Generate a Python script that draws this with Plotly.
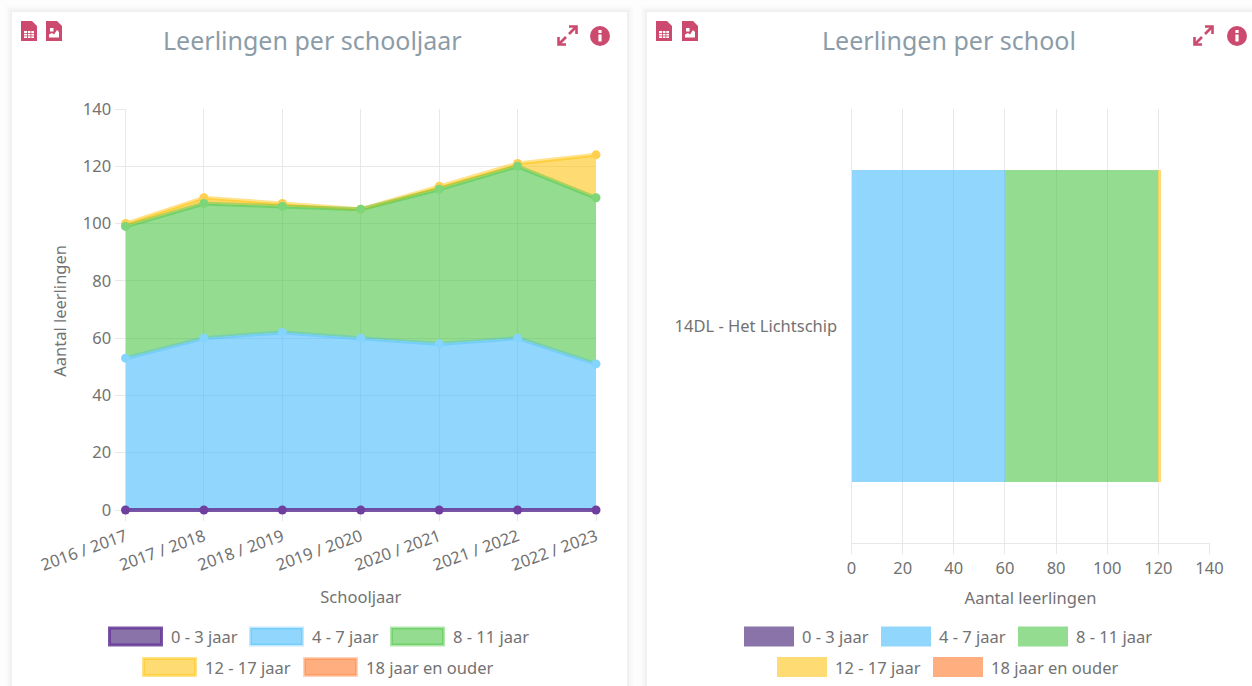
import plotly.graph_objects as go

W, H = 1252, 686
school_years = ["2016 / 2017", "2017 / 2018", "2018 / 2019", "2019 / 2020", "2020 / 2021", "2021 / 2022", "2022 / 2023"]
age_groups = ["0 - 3 jaar", "4 - 7 jaar", "8 - 11 jaar", "12 - 17 jaar", "18 jaar en ouder"]
age_0_3 = [0, 0, 0, 0, 0, 0, 0]
age_4_7 = [53, 60, 62, 60, 58, 60, 51]
age_8_11 = [46, 47, 44, 45, 54, 60, 58]
age_12_17 = [1, 2, 1, 0, 1, 1, 15]
school_names = ["14DL - Het Lichtschip"]
school_values = [0, 60, 60, 1, 0]

FONT = "Noto Sans"
TXT = "#727272"
GRID = "#e8e8e8"
PINK = "#cc4a6e"
SIZE = 16.5
fills = ["rgba(42,0,97,0.55)", "rgba(54,183,252,0.55)", "rgba(60,193,53,0.55)", "rgba(255,191,0,0.55)", "rgba(255,108,24,0.55)"]
lines = ["rgba(100,55,150,0.85)", "rgba(54,183,252,0.3)", "rgba(60,193,53,0.4)", "rgba(255,191,0,0.45)", "rgba(255,108,24,0.3)"]
marks = ["#6f3f9f", "#85d4fd", "#7dd67a", "#ffcf50", "#ffa070"]


def px(x):
    return x / W


def py(y):
    return 1 - y / H


def P(points, close=True):
    s = "M" + " L".join(f"{px(x):.5f},{py(y):.5f}" for x, y in points)
    return s + (" Z" if close else "")


shapes = []
annotations = []


def rect(x0, y0, x1, y1, fill, line=None, lw=0, layer="above"):
    shapes.append(dict(type="rect", xref="paper", yref="paper", x0=px(x0), x1=px(x1), y0=py(y0), y1=py(y1),
                       fillcolor=fill, line=dict(color=line or "rgba(0,0,0,0)", width=lw), layer=layer))


def text(x, y, s, size=SIZE, color=TXT, anchor="left"):
    annotations.append(dict(x=px(x), y=py(y), xref="paper", yref="paper", text=s, showarrow=False, xanchor=anchor,
                            yanchor="middle", font=dict(family=FONT, size=size, color=color)))


def card(x0, x1):
    for k, a in ((6, 0.012), (4, 0.016), (2, 0.02)):
        rect(x0 - k, 12 - k, x1 + k, H + 20, f"rgba(0,0,0,{a})", layer="below")
    rect(x0, 12, x1, H + 20, "white", layer="below")


def doc_icon(x, y, w=16, h=20):
    shapes.append(dict(type="path", xref="paper", yref="paper", layer="above", fillcolor=PINK, line=dict(width=0),
                       path=P([(x, y), (x + w - 5, y), (x + w, y + 5), (x + w, y + h), (x, y + h)])))


def calc_icon(x, y):
    doc_icon(x, y)
    rect(x + 3, y + 10, x + 13, y + 17, "white")
    for dx in (6, 9.5):
        rect(x + dx, y + 10, x + dx + 0.8, y + 17, PINK)
    for dy in (12, 14.5):
        rect(x + 3, y + dy, x + 13, y + dy + 0.8, PINK)


def img_icon(x, y):
    doc_icon(x, y)
    rect(x + 4, y + 7, x + 7.5, y + 10.5, "white")
    shapes.append(dict(type="path", xref="paper", yref="paper", layer="above", fillcolor="white", line=dict(width=0),
                       path=P([(x + 3, y + 16.5), (x + 3, y + 13.5), (x + 6, y + 12), (x + 8, y + 13.5), (x + 11, y + 9), (x + 13, y + 11), (x + 13, y + 16.5)])))


def expand_icon(x, y, s=21):
    stroke = dict(color=PINK, width=2.6)
    for pts in ([(x + 2, y + s - 2), (x + 9, y + s - 9)], [(x + s - 2, y + 2), (x + s - 9, y + 9)],
                [(x + s - 9, y + 1.5), (x + s - 1.5, y + 1.5), (x + s - 1.5, y + 9)],
                [(x + 1.5, y + s - 9), (x + 1.5, y + s - 1.5), (x + 9, y + s - 1.5)]):
        shapes.append(dict(type="path", xref="paper", yref="paper", layer="above", line=stroke, path=P(pts, False)))


def info_icon(cx, cy, r=10):
    shapes.append(dict(type="circle", xref="paper", yref="paper", x0=px(cx - r), x1=px(cx + r), y0=py(cy + r), y1=py(cy - r),
                       fillcolor=PINK, line=dict(width=0), layer="above"))
    rect(cx - 1.6, cy - 1.5, cx + 1.6, cy + 5.5, "white")
    rect(cx - 1.6, cy - 6, cx + 1.6, cy - 3, "white")


def legend(items, swatch_w, border):
    for i, x0, y in items:
        x1 = x0 + swatch_w
        d = 1.5 if border else 0
        rect(x0 + d, y - 10 + d, x1 - d, y + 10 - d, fills[i], lines[i] if border else None, 3 if border else 0)
        text(x1 + 6, y, age_groups[i])


card(12, 627)
card(647, W + 20)
calc_icon(21, 21)
img_icon(46, 21)
expand_icon(557, 25)
info_icon(600, 36)
calc_icon(656, 21)
img_icon(682, 21)
expand_icon(1193, 25)
info_icon(1237, 36)
text(312.5, 40, "Leerlingen per schooljaar", 25, "#8b9ca8", "center")
text(948.5, 40, "Leerlingen per school", 25, "#8b9ca8", "center")
legend([(0, 108, 636.5), (1, 249, 636.5), (2, 390, 636.5), (3, 142, 667), (4, 303, 667)], 55, True)
legend([(0, 744, 636.5), (1, 881, 636.5), (2, 1018, 636.5), (3, 777, 667), (4, 933, 667)], 50, False)

fig = go.Figure()
series = [age_0_3, age_4_7, age_8_11, age_12_17]
for i, vals in enumerate(series):
    fig.add_trace(go.Scatter(x=school_years, y=vals, name=age_groups[i], stackgroup="a", mode="none",
                             fillcolor=fills[i], showlegend=False, xaxis="x", yaxis="y"))
# outlines and points go on top, with the youngest group in front, as in the reference
cumulative = [[sum(s[k] for s in series[:i + 1]) for k in range(len(school_years))] for i in range(len(series))]
for i in (3, 2, 1, 0):
    fig.add_trace(go.Scatter(x=school_years, y=cumulative[i], name=age_groups[i], mode="lines+markers",
                             line=dict(color=lines[i], width=4), cliponaxis=False,
                             marker=dict(size=9, color=marks[i]), showlegend=False, xaxis="x", yaxis="y"))
for i, v in enumerate(school_values):
    fig.add_trace(go.Bar(y=school_names, x=[v], name=age_groups[i], orientation="h", marker=dict(color=fills[i], line=dict(width=0)),
                         showlegend=False, xaxis="x2", yaxis="y2"))

tick = dict(family=FONT, size=SIZE, color=TXT)
title_font = dict(family=FONT, size=SIZE, color=TXT)
ax = dict(showgrid=True, gridcolor=GRID, gridwidth=1, ticks="outside", ticklen=10, tickcolor=GRID, tickfont=tick,
          showline=True, linecolor=GRID, zeroline=False, automargin=False, layer="below traces")
# the value axis starts one unit below 0 so the line along 0 is not cut in half by the plot clip
unit = 401 / 140
fig.update_layout(
    width=W, height=H, margin=dict(l=0, r=0, t=0, b=0), paper_bgcolor="#fdfdfd", plot_bgcolor="rgba(0,0,0,0)",
    barmode="stack", bargap=0.28, shapes=shapes, annotations=annotations, font=dict(family=FONT),
    xaxis=dict(domain=[px(125.5), px(596)], type="category", range=[0, 6], tickangle=-20, anchor="y",
               **{**ax, "ticklen": 7, "showline": False},
               title=dict(text="Schooljaar", font=title_font, standoff=16)),
    yaxis=dict(domain=[py(510 + unit), py(109)], range=[-1, 140], tick0=0, dtick=20, anchor="x", **ax,
               title=dict(text="Aantal leerlingen", font=title_font, standoff=12)),
    xaxis2=dict(domain=[px(851.5), px(1209.5)], range=[0, 140], dtick=20, anchor="y2", **ax,
                title=dict(text="Aantal leerlingen", font=title_font, standoff=14)),
    yaxis2=dict(domain=[py(543), py(109)], type="category", anchor="x2", **{**ax, "showgrid": False, "tickcolor": "rgba(0,0,0,0)"}),
)
fig.write_html("out.html", config=dict(displayModeBar=False),
               post_script="document.body.style.margin='0';document.body.style.overflow='hidden';")
